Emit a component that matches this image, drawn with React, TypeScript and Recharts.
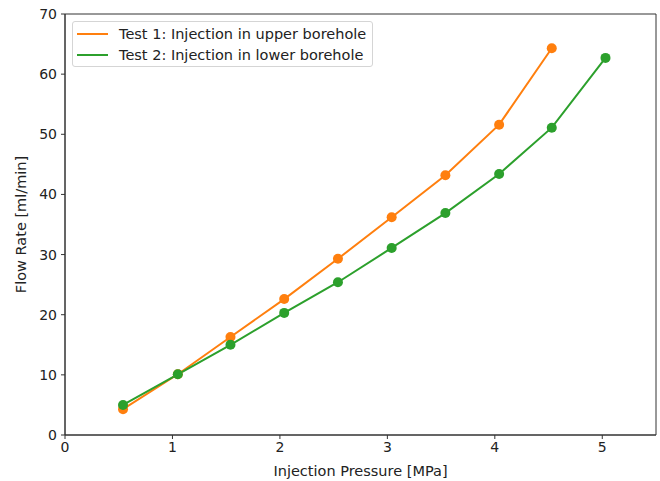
import React from "react"
import {
  LineChart,
  Line,
  XAxis,
  YAxis,
  Label,
  ReferenceArea,
} from "recharts"

// injection pressure [MPa] per step
const pressure1 = [0.54, 1.05, 1.54, 2.04, 2.54, 3.04, 3.54, 4.04, 4.53]
const pressure2 = [0.54, 1.05, 1.54, 2.04, 2.54, 3.04, 3.54, 4.04, 4.53, 5.03]

// flow rate [ml/min]
const flow1 = [4.3, 10.1, 16.3, 22.6, 29.3, 36.2, 43.2, 51.6, 64.3]
const flow2 = [5.0, 10.1, 15.0, 20.3, 25.4, 31.1, 36.9, 43.4, 51.1, 62.7]

const xTicks = [0, 1, 2, 3, 4, 5]
const yTicks = [0, 10, 20, 30, 40, 50, 60, 70]

const SERIES = [
  { key: "t1", name: "Test 1: Injection in upper borehole", color: "#ff7f0e" },
  { key: "t2", name: "Test 2: Injection in lower borehole", color: "#2ca02c" },
]

const test1 = pressure1.map((x, i) => ({ x, y: flow1[i] }))
const test2 = pressure2.map((x, i) => ({ x, y: flow2[i] }))

const FONT = "'DejaVu Sans', sans-serif"

// matplotlib-style legend box, laid over the plot
function LegendBox() {
  return (
    <div
      style={{
        position: "absolute",
        left: 72,
        top: 21,
        width: 301,
        height: 46,
        boxSizing: "border-box",
        border: "1px solid #d5d5d5",
        borderRadius: 3,
        background: "rgba(255,255,255,0.8)",
        padding: "1px 0 0 4px",
        fontFamily: FONT,
        fontSize: 14.5,
        color: "#222",
        whiteSpace: "nowrap",
      }}
    >
      {SERIES.map((s) => (
        <div key={s.key} style={{ display: "flex", alignItems: "center", height: 21 }}>
          <span
            style={{
              display: "inline-block",
              flexShrink: 0,
              width: 31,
              height: 2,
              background: s.color,
              marginRight: 11,
            }}
          />
          {s.name}
        </div>
      ))}
    </div>
  )
}

export default function App() {
  const tickStyle = { fill: "#222", fontSize: 14, fontFamily: FONT }
  return (
    <div style={{ position: "absolute", left: 0, top: 0, width: 660, height: 481, background: "#fff" }}>
      <LineChart width={660} height={481} margin={{ top: 14, right: 4, bottom: 0, left: 0 }}>
        <XAxis
          type="number"
          dataKey="x"
          domain={[0, 5.5]}
          ticks={xTicks}
          allowDataOverflow
          tick={tickStyle}
          tickSize={4}
          tickMargin={3}
          height={46}
          axisLine={{ stroke: "#333" }}
          tickLine={{ stroke: "#333" }}
        >
          <Label
            value="Injection Pressure [MPa]"
            position="insideBottom"
            offset={5}
            style={{ fill: "#222", fontSize: 14.5, fontFamily: FONT }}
          />
        </XAxis>
        <YAxis
          type="number"
          dataKey="y"
          domain={[0, 70]}
          ticks={yTicks}
          tick={tickStyle}
          tickSize={4}
          tickMargin={4}
          width={65}
          axisLine={{ stroke: "#333" }}
          tickLine={{ stroke: "#333" }}
        >
          <Label
            value="Flow Rate [ml/min]"
            angle={-90}
            position="insideLeft"
            offset={21}
            style={{ fill: "#222", fontSize: 14.5, fontFamily: FONT, textAnchor: "middle" }}
          />
        </YAxis>
        <ReferenceArea x1={0} x2={5.5} y1={0} y2={70} fill="none" stroke="#333" strokeOpacity={1} />
        <Line
          data={test1}
          dataKey="y"
          name={SERIES[0].name}
          stroke={SERIES[0].color}
          strokeWidth={2}
          dot={{ r: 5, fill: SERIES[0].color, stroke: SERIES[0].color, strokeWidth: 0 }}
          isAnimationActive={false}
        />
        <Line
          data={test2}
          dataKey="y"
          name={SERIES[1].name}
          stroke={SERIES[1].color}
          strokeWidth={2}
          dot={{ r: 5, fill: SERIES[1].color, stroke: SERIES[1].color, strokeWidth: 0 }}
          isAnimationActive={false}
        />
      </LineChart>
      <LegendBox />
    </div>
  )
}
